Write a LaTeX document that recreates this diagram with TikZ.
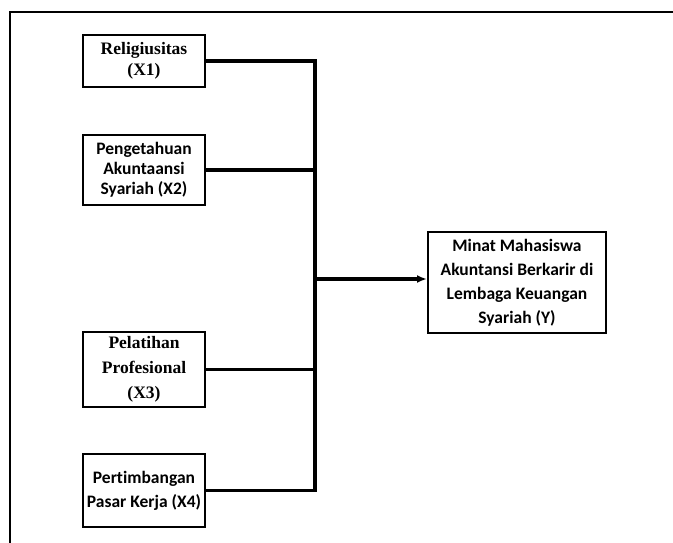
\documentclass[tikz,border=0pt]{standalone}
\usepackage{fontspec}
\newfontfamily\calfont[Ligatures=NoCommon]{Carlito}
\newfontfamily\tmsfont{Liberation Serif}
\usetikzlibrary{arrows.meta}

\begin{document}
\begin{tikzpicture}[
    x=1pt, y=-1pt,
    var/.style={
        rectangle,
        draw=black,
        line width=2pt,
        fill=white,
        minimum width=122pt,
        inner sep=2pt,
        align=center
    },
    calbox/.style={var, font=\calfont\bfseries\fontsize{17.5}{20}\selectfont},
    tmsbox/.style={var, font=\tmsfont\bfseries\fontsize{17.5}{21}\selectfont},
    link/.style={line width=3.2pt},
    arrow/.style={-{Latex[length=10pt,width=8pt]}, line width=3.2pt}
]
\useasboundingbox (0,0) rectangle (673,543);
% frame
\draw[line width=1.5pt] (10,543) -- (10,12) -- (673,12);

\node[tmsbox, minimum height=52pt] (x1) at (144,61) {Religiusitas\\(X1)};
\node[calbox, minimum height=70pt] (x2) at (144,170) {Pengetahuan\\Akuntaansi\\Syariah (X2)};
\node[tmsbox, minimum height=75pt, font=\tmsfont\bfseries\fontsize{17.5}{25}\selectfont] (x3) at (144,369.5) {Pelatihan\\Profesional\\(X3)};
\node[calbox, minimum height=73pt, font=\calfont\bfseries\fontsize{17.5}{24}\selectfont] (x4) at (144,490.5) {Pertimbangan\\Pasar Kerja (X4)};
\node[calbox, minimum width=178pt, minimum height=101pt, font=\calfont\bfseries\fontsize{17.5}{24}\selectfont] (y) at (517,282.5) {Minat Mahasiswa\\Akuntansi Berkarir di\\Lembaga Keuangan\\Syariah (Y)};

\coordinate (bus) at (315,279);

\draw[link] (x1.east) -- (x1.east -| bus) -- (x4.east -| bus) -- (x4.east);
\draw[link] (x2.east) -- (x2.east -| bus);
\draw[link] (x3.east) -- (x3.east -| bus);
\draw[arrow] (bus) -- (bus -| y.west);

\end{tikzpicture}
\end{document}
